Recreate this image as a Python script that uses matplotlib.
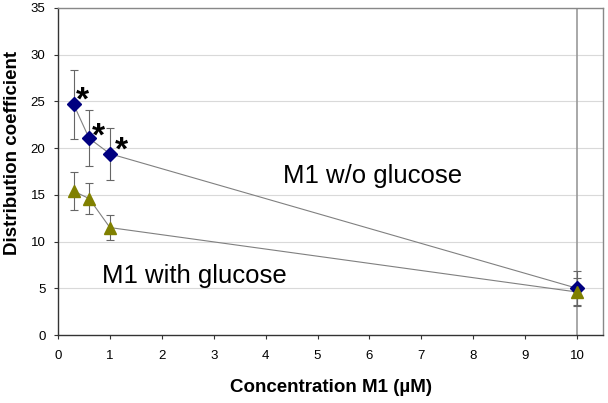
import matplotlib
matplotlib.use("Agg")
import matplotlib.pyplot as plt

plt.rcParams['font.family'] = ['Liberation Sans', 'DejaVu Sans']

conc = [0.3, 0.6, 1.0, 10.0]
wo_glucose = [24.7, 21.05, 19.4, 5.0]
wo_glucose_err = [3.7, 3.0, 2.8, 1.8]
with_glucose = [15.4, 14.6, 11.5, 4.6]
with_glucose_err = [2.0, 1.7, 1.3, 1.5]
star_x = [0.48, 0.77, 1.23]
star_y = [25.0, 21.2, 19.7]

fig = plt.figure(figsize=(6.08, 4.03), dpi=100)
ax = fig.add_axes([58/608, 1-335/403, (603-58)/608, (335-8)/403])

ax.set_xlim(0, 10.5)
ax.set_ylim(0, 35)
ax.set_xticks(range(0, 11))
ax.set_yticks(range(0, 36, 5))
for y in range(5, 36, 5):
    ax.axhline(y, color='#d9d9d9', lw=0.8, zorder=0)
ax.axvline(10, color='#999999', lw=1.2, zorder=1)

ax.errorbar(conc, wo_glucose, yerr=wo_glucose_err, fmt='none', ecolor='#666666',
            elinewidth=0.8, capsize=3, capthick=0.8, zorder=2)
ax.errorbar(conc, with_glucose, yerr=with_glucose_err, fmt='none', ecolor='#666666',
            elinewidth=0.8, capsize=3, capthick=0.8, zorder=2)
ax.plot(conc, wo_glucose, color='#808080', lw=0.8, zorder=3)
ax.plot(conc, with_glucose, color='#808080', lw=0.8, zorder=3)
ax.plot(conc, wo_glucose, ls='none', marker='D', ms=7, color='#000080',
        markeredgecolor='#000080', zorder=4)
ax.plot(conc, with_glucose, ls='none', marker='^', ms=9, color='#808000',
        markeredgecolor='#808000', zorder=5)

for sx, sy in zip(star_x, star_y):
    ax.text(sx, sy, '*', fontsize=24, fontweight='bold', ha='center', va='center')

ax.text(4.34, 16.3, 'M1 w/o glucose', fontsize=18.5, ha='left', va='baseline')
ax.text(0.85, 5.57, 'M1 with glucose', fontsize=18.5, ha='left', va='baseline')

for s in ['left', 'bottom']:
    ax.spines[s].set_color('#333333')
    ax.spines[s].set_linewidth(1.0)
for s in ['top', 'right']:
    ax.spines[s].set_color('#888888')
    ax.spines[s].set_linewidth(1.0)

ax.tick_params(direction='out', length=3, width=0.8, color='#333333', labelsize=9.5)
ax.tick_params(axis='x', pad=8)
ax.tick_params(axis='y', pad=6)
ax.set_xlabel('Concentration M1 (\u00b5M)', fontsize=13.5, fontweight='bold')
ax.set_ylabel('Distribution coefficient', fontsize=13.5, fontweight='bold')
ax.xaxis.set_label_coords((331-58)/545, -(388-335)/327)
ax.yaxis.set_label_coords(-(58-13)/545, (335-153)/327)
ax.xaxis.label.set_va('center')
ax.yaxis.label.set_va('center')

fig.savefig('out.png', dpi=100)
